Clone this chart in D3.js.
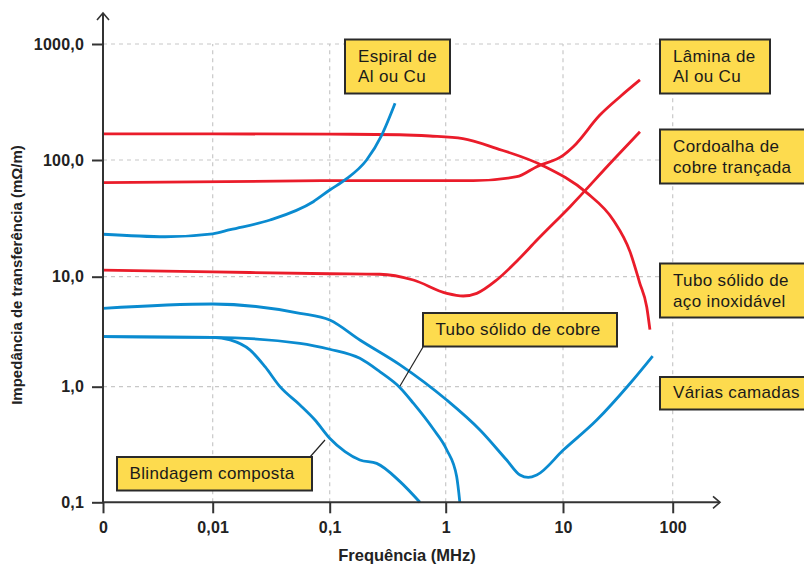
<!DOCTYPE html>
<html>
<head>
<meta charset="utf-8">
<script src="https://cdn.jsdelivr.net/npm/d3@7"></script>
<style>
  html, body { margin: 0; padding: 0; background: #fff; }
  svg { display: block; }
  text { font-family: "Liberation Sans", Arial, Helvetica, sans-serif; }
</style>
</head>
<body>
<svg id="chart" width="804" height="564"></svg>
<script>
// ---------- DATA ----------
const xTickValues = [0.001, 0.01, 0.1, 1, 10, 100];
const xTickLabels = ["0", "0,01", "0,1", "1", "10", "100"];
const yTickValues = [0.1, 1, 10, 100, 1000];
const yTickLabels = ["0,1", "1,0", "10,0", "100,0", "1000,0"];

const xTitle = "Frequência (MHz)";
const yTitle = "Impedância de transferência (mΩ/m)";

// [frequency MHz, impedance mΩ/m]
const acoInox = [[0.001,168],[0.01,168],[0.1,167],[0.4,165],[0.73,161],[1.4,153],[2.7,126],[6.8,89],[16.4,52.5],[28.7,30.6],[40.8,16.4],[50,8.8],[58,5.3],[62,3.3]];
const laminaAlCu = [[0.001,63.9],[0.1,66.5],[1.72,66.5],[4.03,71.9],[5.97,87.7],[10.1,110],[12.4,130],[21.7,244],[33.1,351],[50.3,490]];
const cordoalha = [[0.001,11.4],[0.01,11.0],[0.1,10.6],[0.27,10.5],[0.526,9.33],[1.02,7.06],[1.41,6.68],[1.84,7.06],[2.72,9.33],[4.13,13.9],[6.0,20.6],[11.6,39.8],[28.7,100],[50.3,175]];
const espiral = [[0.001,23.1],[0.0037,22.0],[0.01,23.3],[0.0141,25.3],[0.0309,30.6],[0.0724,43.9],[0.1,55.3],[0.1355,67.5],[0.208,100],[0.281,164],[0.366,308]];
const variasCamadas = [[0.001,5.16],[0.01,5.65],[0.0557,4.65],[0.1,4.04],[0.182,2.66],[0.404,1.58],[1.02,0.767],[1.96,0.422],[3.31,0.232],[4.3,0.172],[5.06,0.164],[5.97,0.172],[10.06,0.283],[20.3,0.515],[40.8,1.07],[65.7,1.9]];
const tuboCobre = [[0.001,2.85],[0.01,2.81],[0.0557,2.48],[0.1,2.19],[0.182,1.81],[0.27,1.37],[0.404,0.98],[0.526,0.72],[0.782,0.43],[1.02,0.285],[1.24,0.167],[1.32,0.1]];
const blindagem = [[0.001,2.85],[0.01,2.81],[0.0141,2.66],[0.0208,2.16],[0.028,1.52],[0.0376,1.0],[0.0557,0.695],[0.0749,0.515],[0.1,0.358],[0.1355,0.274],[0.182,0.232],[0.254,0.217],[0.404,0.151],[0.6,0.1]];

const seriesNames = ["Tubo sólido de aço inoxidável","Lâmina de Al ou Cu","Cordoalha de cobre trançada","Espiral de Al ou Cu","Várias camadas","Tubo sólido de cobre","Blindagem composta"];
const seriesValues = [acoInox, laminaAlCu, cordoalha, espiral, variasCamadas, tuboCobre, blindagem];
const seriesGroup = ["red","red","red","blue","blue","blue","blue"];

const labelLines = [
  ["Espiral de", "Al ou Cu"],
  ["Lâmina de", "Al ou Cu"],
  ["Cordoalha de", "cobre trançada"],
  ["Tubo sólido de", "aço inoxidável"],
  ["Várias camadas"],
  ["Tubo sólido de cobre"],
  ["Blindagem composta"]
];

// ---------- LAYOUT ----------
const colors = { red: "#ea1c2a", blue: "#0a8bd0" };
const svg = d3.select("#chart");

const x = d3.scaleLog().domain(xTickValues).range([103, 212.7, 329.7, 445.7, 563, 672.7]);
const y = d3.scaleLog().domain(yTickValues).range([502.3, 386.7, 276.7, 160, 44]);

const axisColor = "#333";
const gridColor = "#c8c8c8";

// grid
const grid = svg.append("g");
grid.selectAll("line.v").data(xTickValues.slice(1)).join("line")
  .attr("x1", d => x(d)).attr("x2", d => x(d))
  .attr("y1", y(0.1)).attr("y2", y(1000))
  .attr("stroke", gridColor).attr("stroke-width", 1.2).attr("stroke-dasharray", "4,4");
grid.selectAll("line.h").data(yTickValues.slice(1)).join("line")
  .attr("x1", x(0.001)).attr("x2", x(100))
  .attr("y1", d => y(d)).attr("y2", d => y(d))
  .attr("stroke", gridColor).attr("stroke-width", 1.2).attr("stroke-dasharray", "4,4");

// curves
const line = d3.line().x(d => x(d[0])).y(d => y(d[1])).curve(d3.curveMonotoneX);
svg.append("g").selectAll("path").data(seriesValues).join("path")
  .attr("d", line)
  .attr("fill", "none")
  .attr("stroke", (d, i) => colors[seriesGroup[i]])
  .attr("stroke-width", 2.8)
  .attr("stroke-linecap", "butt");

// axes
const xAxis = d3.axisBottom(x).tickValues(xTickValues)
  .tickFormat((d, i) => xTickLabels[i]).tickSize(11).tickSizeOuter(0).tickPadding(5);
const yAxis = d3.axisLeft(y).tickValues(yTickValues)
  .tickFormat((d, i) => yTickLabels[i]).tickSize(11).tickSizeOuter(0).tickPadding(8);

const gx = svg.append("g").attr("transform", `translate(0,${y(0.1)})`).call(xAxis);
const gy = svg.append("g").attr("transform", `translate(${x(0.001)},0)`).call(yAxis);
[gx, gy].forEach(g => {
  g.select(".domain").remove();
  g.selectAll(".tick line").attr("stroke", axisColor).attr("stroke-width", 2);
  g.selectAll(".tick text").attr("fill", "#222")
    .style("font-family", '"Liberation Sans", Arial, sans-serif')
    .style("font-size", "16px").style("font-weight", "700").style("letter-spacing", "0.2px");
});
gx.selectAll(".tick text").attr("dy", "0.9em");

// axis lines with arrows
const x0 = x(0.001), y0 = y(0.1);
svg.append("line").attr("x1", x0).attr("x2", 720).attr("y1", y0).attr("y2", y0)
  .attr("stroke", axisColor).attr("stroke-width", 2);
svg.append("line").attr("x1", x0).attr("x2", x0).attr("y1", y0 + 1).attr("y2", 13)
  .attr("stroke", axisColor).attr("stroke-width", 2);
svg.append("path").attr("d", `M${713},${y0 - 6} L${720},${y0} L${713},${y0 + 6}`)
  .attr("fill", "none").attr("stroke", axisColor).attr("stroke-width", 1.6);
svg.append("path").attr("d", `M${x0 - 6},${20} L${x0},${13} L${x0 + 6},${20}`)
  .attr("fill", "none").attr("stroke", axisColor).attr("stroke-width", 1.6);

// axis titles
svg.append("text").attr("x", 407).attr("y", 561).attr("text-anchor", "middle")
  .attr("fill", "#222").style("font-size", "16.5px").style("font-weight", "700")
  .text(xTitle);
svg.append("text").attr("transform", "translate(22,275) rotate(-90)").attr("text-anchor", "middle")
  .attr("fill", "#222").style("font-size", "15px").style("font-weight", "700")
  .text(yTitle);

// leader lines
const leaders = [
  [[423, 347], [400, 386]],
  [[310, 457], [325, 440]]
];
svg.append("g").selectAll("line").data(leaders).join("line")
  .attr("x1", d => d[0][0]).attr("y1", d => d[0][1])
  .attr("x2", d => d[1][0]).attr("y2", d => d[1][1])
  .attr("stroke", "#222").attr("stroke-width", 1.2);

// label boxes: [x, y, w, h, textX, [baselines]]
const boxes = [
  [345, 39.5, 105, 54, 358, [61.5, 82]],
  [660, 39.5, 110, 54, 673, [61.5, 82]],
  [660, 129.5, 145, 54, 673, [152, 172.5]],
  [660, 263.5, 145, 54, 673, [286, 306.5]],
  [660, 377, 145, 32.5, 673, [397.5]],
  [423, 313, 194, 33.5, 435.5, [335]],
  [117, 457, 195, 33.5, 129.5, [479]]
];
const lg = svg.append("g").selectAll("g").data(boxes).join("g");
lg.append("rect")
  .attr("x", d => d[0]).attr("y", d => d[1]).attr("width", d => d[2]).attr("height", d => d[3])
  .attr("fill", "#fddb4e").attr("stroke", "#2a2a2a").attr("stroke-width", 2);
lg.each(function(d, i) {
  const g = d3.select(this);
  labelLines[i].forEach((t, j) => {
    g.append("text").attr("x", d[4]).attr("y", d[5][j])
      .attr("fill", "#1a1a1a").style("font-size", "17px").style("letter-spacing", "0.35px")
      .text(t);
  });
});
</script>
</body>
</html>
